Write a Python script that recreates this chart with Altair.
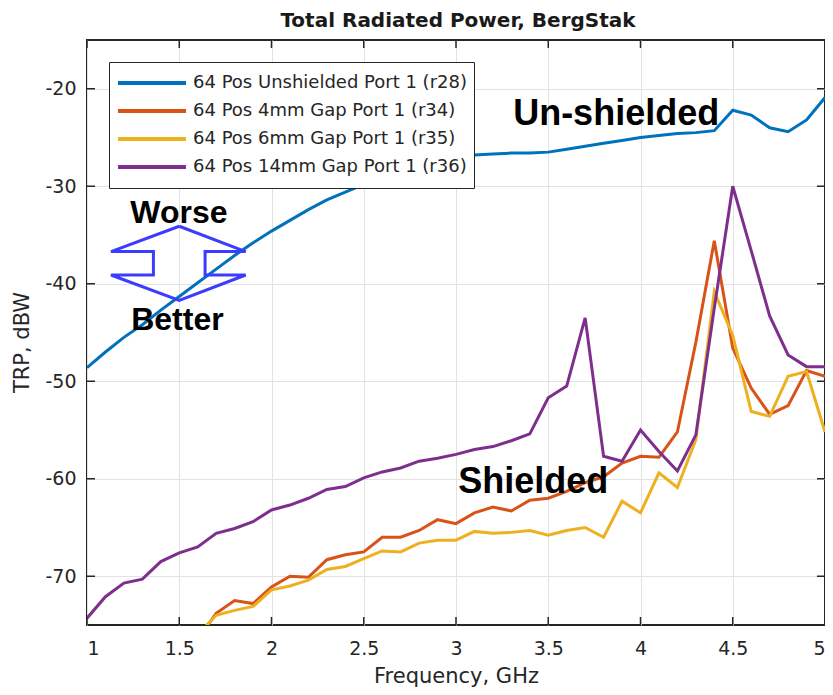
import altair as alt
import pandas as pd

# ---------------- data ----------------
freq = [1.0, 1.1, 1.2, 1.3, 1.4, 1.5, 1.6, 1.7, 1.8, 1.9,
        2.0, 2.1, 2.2, 2.3, 2.4, 2.5, 2.6, 2.7, 2.8, 2.9,
        3.0, 3.1, 3.2, 3.3, 3.4, 3.5, 3.6, 3.7, 3.8, 3.9,
        4.0, 4.1, 4.2, 4.3, 4.4, 4.5, 4.6, 4.7, 4.8, 4.9, 5.0]

trp_unshielded = [-48.6, -47.0, -45.5, -44.2, -42.7, -41.3, -39.9, -38.5, -37.1, -35.8,
                  -34.6, -33.5, -32.4, -31.4, -30.6, -29.8, -29.1, -28.4, -27.8, -27.3,
                  -27.0, -26.8, -26.7, -26.6, -26.6, -26.5, -26.2, -25.9, -25.6, -25.3,
                  -25.0, -24.8, -24.6, -24.5, -24.3, -22.2, -22.7, -24.0, -24.4, -23.2, -20.9]

trp_4mm = [None, None, None, None, None, None, -76.5, -73.8, -72.5, -72.8,
           -71.1, -70.0, -70.1, -68.3, -67.8, -67.5, -66.0, -66.0, -65.3, -64.2,
           -64.6, -63.5, -62.9, -63.3, -62.2, -62.0, -61.3, -60.4, -59.8, -58.4,
           -57.7, -57.8, -55.2, -46.0, -35.6, -46.6, -50.7, -53.4, -52.5, -48.9, -49.5]

trp_6mm = [None, None, None, None, None, None, -76.0, -74.0, -73.5, -73.1,
           -71.4, -71.0, -70.4, -69.3, -69.0, -68.2, -67.4, -67.5, -66.6, -66.3,
           -66.3, -65.4, -65.6, -65.5, -65.3, -65.8, -65.3, -65.0, -66.0, -62.3,
           -63.5, -59.4, -60.9, -56.0, -40.8, -45.3, -53.1, -53.6, -49.5, -49.0, -55.2]

trp_14mm = [-74.3, -72.1, -70.7, -70.3, -68.5, -67.6, -67.0, -65.6, -65.1, -64.4,
            -63.2, -62.7, -62.0, -61.1, -60.8, -59.9, -59.3, -58.9, -58.2, -57.9,
            -57.5, -57.0, -56.7, -56.1, -55.4, -51.7, -50.5, -43.5, -57.7, -58.2,
            -55.0, -57.2, -59.2, -55.5, -42.5, -30.0, -36.6, -43.3, -47.3, -48.5, -48.5]

series_names = ["64 Pos Unshielded Port 1 (r28)",
                "64 Pos 4mm Gap Port 1 (r34)",
                "64 Pos 6mm Gap Port 1 (r35)",
                "64 Pos 14mm Gap Port 1 (r36)"]
series_colors = ["#0072BD", "#D95319", "#EDB120", "#7E2F8E"]

x_ticks = [1, 1.5, 2, 2.5, 3, 3.5, 4, 4.5, 5]
y_ticks = [-70, -60, -50, -40, -30, -20]

chart_title = ["Total Radiated Power, BergStak"]

ann_text = ["Un-shielded", "Shielded", "Worse", "Better"]
ann_freq = [3.868, 3.419, 1.498, 1.49]
ann_trp = [-23.7, -61.5, -33.8, -44.7]
ann_size = [36, 36, 32, 32]

arrow_freq = [1.50, 1.86, 1.64, 1.64, 1.86, 1.50, 1.13, 1.36, 1.36, 1.13, 1.50]
arrow_trp = [-34.1, -36.7, -36.7, -39.1, -39.1, -41.7, -39.1, -39.1, -36.7, -36.7, -34.1]

# ---------------- tables ----------------
rows = []
for name, vals in zip(series_names, [trp_unshielded, trp_4mm, trp_6mm, trp_14mm]):
    for f, v in zip(freq, vals):
        if v is not None:
            rows.append({"series": name, "freq": f, "trp": v})
df = pd.DataFrame(rows)

ann_df = pd.DataFrame({"text": ann_text, "freq": ann_freq, "trp": ann_trp, "size": ann_size})
arrow_df = pd.DataFrame({"freq": arrow_freq, "trp": arrow_trp, "i": list(range(len(arrow_freq)))})
xt_df = pd.DataFrame({"freq": x_ticks})
yt_df = pd.DataFrame({"trp": y_ticks})
title_df = pd.DataFrame({"t": chart_title})

W, H = 738, 585
INK = "#262626"

x_scale = alt.Scale(domain=[1, 5], nice=False, zero=False)
y_scale = alt.Scale(domain=[-75, -15], nice=False, zero=False)
color_scale = alt.Scale(domain=series_names, range=series_colors)

x_axis = alt.Axis(values=x_ticks, labelExpr="'' + datum.value", title="Frequency, GHz",
                  grid=True, ticks=False, domain=False, labelPadding=14,
                  titleY=57, titleBaseline="alphabetic", titleFontSize=21)
y_axis = alt.Axis(values=y_ticks, labelExpr="'' + datum.value", title="TRP, dBW",
                  grid=True, ticks=False, domain=False, labelPadding=11,
                  titleAngle=270, titleX=-65, titleY=302, titleBaseline="middle",
                  titleAlign="center", titleFontSize=21)

X = alt.X("freq:Q", scale=x_scale, axis=x_axis)
Y = alt.Y("trp:Q", scale=y_scale, axis=y_axis)

legend = alt.Legend(orient="none", legendX=22, legendY=22, title=None,
                    symbolType="stroke", symbolStrokeWidth=4, symbolSize=4624,
                    clipHeight=28, labelFont="DejaVu Sans", labelFontSize=18,
                    labelColor=INK, fillColor="white", strokeColor=INK,
                    padding=7, labelOffset=5, rowPadding=0, labelLimit=400)

layers = []
for name in series_names:
    layers.append(
        alt.Chart(df).transform_filter(alt.datum.series == name)
        .mark_line(strokeWidth=3, clip=True)
        .encode(x=X, y=Y, color=alt.Color("series:N", scale=color_scale, legend=legend))
    )

arrow = alt.Chart(arrow_df).mark_line(color="#3c3cff", strokeWidth=3, strokeJoin="miter").encode(
    x=X, y=Y, order="i:Q",
)

texts = alt.Chart(ann_df).mark_text(font="Liberation Sans", fontWeight="bold", color="black",
                                    align="center", baseline="alphabetic").encode(
    x=X, y=Y, text="text:N",
    size=alt.Size("size:Q", scale=None, legend=None),
)

title_mark = alt.Chart(title_df).mark_text(font="DejaVu Sans", fontWeight="bold", fontSize=20,
                                           color="#1a1a1a", align="center",
                                           baseline="alphabetic").encode(
    x=alt.value(W / 2 + 2), y=alt.value(-13), text="t:N",
)

tick_style = dict(color=INK, strokeWidth=1.5)
ticks_bottom = alt.Chart(xt_df).mark_rule(**tick_style).encode(x=X, y=alt.value(H), y2=alt.value(H - 8))
ticks_top = alt.Chart(xt_df).mark_rule(**tick_style).encode(x=X, y=alt.value(0), y2=alt.value(8))
ticks_left = alt.Chart(yt_df).mark_rule(**tick_style).encode(y=Y, x=alt.value(0), x2=alt.value(8))
ticks_right = alt.Chart(yt_df).mark_rule(**tick_style).encode(y=Y, x=alt.value(W), x2=alt.value(W - 8))

chart = alt.layer(*layers, texts, arrow, ticks_bottom, ticks_top, ticks_left, ticks_right,
                  title_mark).properties(
    width=W, height=H,
    padding={"left": 79, "top": 32, "right": 0, "bottom": 62},
    autosize=alt.AutoSizeParams(type="none"),
).configure_view(stroke=INK, strokeWidth=2).configure_axis(
    gridColor="#e2e2e2", gridWidth=1, labelFont="DejaVu Sans", labelFontSize=19,
    labelColor=INK, titleFont="DejaVu Sans", titleColor=INK, titleFontWeight="normal"
)

chart.save("out.html", embed_options={"renderer": "svg", "actions": False})
